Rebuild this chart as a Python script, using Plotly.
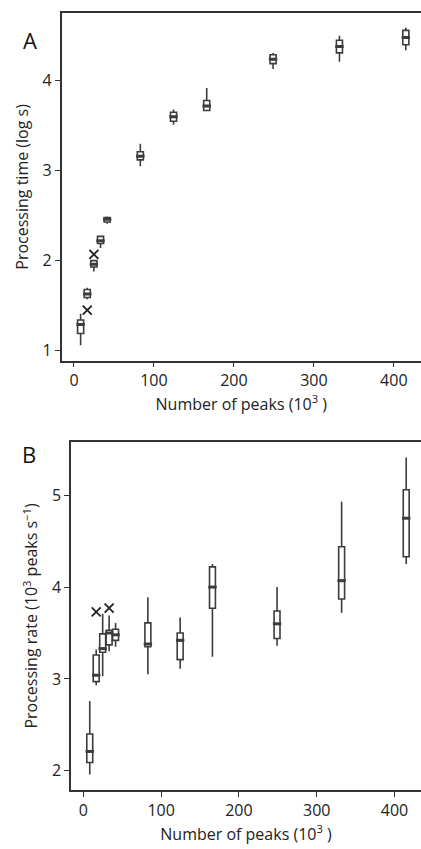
import plotly.graph_objects as go

# x positions (10^3 peaks)
peaks = [8.3, 16.6, 24.9, 33.2, 41.5, 83, 124.5, 166, 249, 332, 415]

# Panel A: processing time (log s)
a_low = [1.06, 1.57, 1.88, 2.14, 2.41, 3.05, 3.51, 3.66, 4.13, 4.21, 4.34]
a_q1 = [1.19, 1.59, 1.93, 2.19, 2.43, 3.12, 3.55, 3.67, 4.19, 4.31, 4.40]
a_med = [1.29, 1.63, 1.96, 2.22, 2.46, 3.16, 3.60, 3.72, 4.24, 4.38, 4.48]
a_q3 = [1.34, 1.68, 2.00, 2.27, 2.48, 3.21, 3.65, 3.78, 4.29, 4.45, 4.56]
a_high = [1.41, 1.70, 2.01, 2.28, 2.49, 3.30, 3.68, 3.92, 4.31, 4.50, 4.59]
a_out_x = [16.6, 24.9]
a_out_y = [1.45, 2.07]

# Panel B: processing rate (10^3 peaks / s)
b_low = [1.96, 2.93, 3.03, 3.30, 3.35, 3.05, 3.11, 3.24, 3.36, 3.72, 4.25]
b_q1 = [2.09, 2.97, 3.29, 3.37, 3.42, 3.35, 3.21, 3.77, 3.44, 3.87, 4.33]
b_med = [2.21, 3.04, 3.33, 3.50, 3.48, 3.38, 3.42, 4.00, 3.60, 4.07, 4.75]
b_q3 = [2.40, 3.26, 3.49, 3.53, 3.54, 3.61, 3.50, 4.22, 3.74, 4.44, 5.06]
b_high = [2.76, 3.32, 3.71, 3.69, 3.61, 3.89, 3.67, 4.25, 4.00, 4.93, 5.41]
b_out_x = [16.6, 33.2]
b_out_y = [3.73, 3.77]

x_ticks = [0, 100, 200, 300, 400]
a_ticks = [1, 2, 3, 4]
b_ticks = [2, 3, 4, 5]

W, H = 421, 849
FONT = "Open Sans"
INK = "#333333"
BOX = "#3c3c3c"

fig = go.Figure()

def add_panel(xa, ya, low, q1, med, q3, high, ox, oy):
    fig.add_trace(go.Box(
        x=peaks, q1=q1, median=med, q3=q3, lowerfence=low, upperfence=high,
        width=7.6, whiskerwidth=0, boxpoints=False,
        fillcolor="white", line=dict(color=BOX, width=1.6),
        xaxis=xa, yaxis=ya, showlegend=False, hoverinfo="skip"))
    fig.add_trace(go.Scatter(
        x=peaks, y=med, mode="markers",
        marker=dict(symbol="line-ew", size=6, line=dict(color=BOX, width=3)),
        xaxis=xa, yaxis=ya, showlegend=False, hoverinfo="skip"))
    fig.add_trace(go.Scatter(
        x=ox, y=oy, mode="markers",
        marker=dict(symbol="x-thin", size=9, line=dict(color="#222222", width=1.8)),
        xaxis=xa, yaxis=ya, showlegend=False, hoverinfo="skip"))

add_panel("x", "y", a_low, a_q1, a_med, a_q3, a_high, a_out_x, a_out_y)
add_panel("x2", "y2", b_low, b_q1, b_med, b_q3, b_high, b_out_x, b_out_y)

axis_common = dict(showline=True, linecolor=INK, linewidth=1.5, ticks="outside",
                   ticklen=5, tickwidth=1.3, tickcolor=INK, showgrid=False,
                   zeroline=False, tickfont=dict(family=FONT, size=16, color="#222"),
                   title_font=dict(family=FONT, size=16, color="#222"))

xtitle = "Number of peaks (10<sup>3</sup> )"

fig.update_layout(
    width=W, height=H, margin=dict(l=0, r=0, t=0, b=0),
    paper_bgcolor="white", plot_bgcolor="white",
    xaxis=dict(domain=[61.5 / W, 1], range=[-15.6, 434], tickvals=x_ticks,
               mirror=True, anchor="y", title=dict(text=xtitle, standoff=8), **axis_common),
    yaxis=dict(domain=[1 - 360.5 / H, 1 - 13.3 / H], range=[0.89, 4.75], tickvals=a_ticks,
               anchor="x", title=dict(text="Processing time (log s)", standoff=10), **axis_common),
    xaxis2=dict(domain=[71 / W, 1], range=[-15.8, 434], tickvals=x_ticks,
                mirror=True, anchor="y2", title=dict(text=xtitle, standoff=8), **axis_common),
    yaxis2=dict(domain=[1 - 790 / H, 1 - 442 / H], range=[1.79, 5.58], tickvals=b_ticks,
                anchor="x2",
                title=dict(text="Processing rate (10<sup>3</sup> peaks s<sup>\u22121</sup>)", standoff=10),
                **axis_common),
    annotations=[
        dict(text="A", x=21 / W, y=1 - 23 / H, xref="paper", yref="paper",
             showarrow=False, font=dict(family=FONT, size=22, color="#111")),
        dict(text="B", x=20 / W, y=1 - 454 / H, xref="paper", yref="paper",
             showarrow=False, font=dict(family=FONT, size=22, color="#111")),
    ],
)

fig.write_html(
    "out.html",
    config={"displayModeBar": False},
    post_script="document.body.style.margin='0';document.body.style.overflow='hidden';",
)
